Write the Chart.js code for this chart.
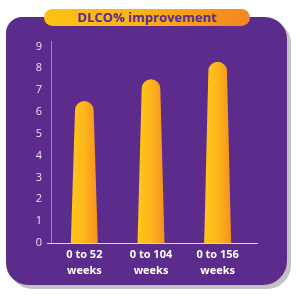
<!DOCTYPE html>
<html>
<head>
<meta charset="utf-8">
<script src="https://cdn.jsdelivr.net/npm/chart.js@4"></script>
<style>
  html, body { margin:0; padding:0; width:300px; height:300px; background:#ffffff; overflow:hidden; }
  #shadow { position:absolute; left:10px; top:21px; width:281px; height:268px; background:#c2c2c2; border-radius:16px 22px 24px 22px; }
  #panel { position:absolute; left:6px; top:17px; width:281px; height:268px; background:#5b2c8c; border-radius:16px 22px 24px 22px; }
  #pill { position:absolute; left:44px; top:9px; width:206px; height:17px; border-radius:9px;
          background:linear-gradient(to right, #fdc114 0%, #fbb317 45%, #f58420 100%);
          color:#5b2c8c; font:bold 13px "Open Sans", sans-serif; text-align:center; line-height:17px; }
  #wrap { position:absolute; left:0; top:0; width:300px; height:300px; }
</style>
</head>
<body>
<div id="shadow"></div>
<div id="panel"></div>
<div id="pill">DLCO% improvement</div>
<div id="wrap"><canvas id="c" width="300" height="300"></canvas></div>
<script>
const categories = [["0 to 52", "weeks"], ["0 to 104", "weeks"], ["0 to 156", "weeks"]];
const improvement = [6.5, 7.5, 8.3];
const yTicks = [0, 1, 2, 3, 4, 5, 6, 7, 8, 9];

const taperedBars = {
  id: 'taperedBars',
  afterDatasetsDraw(chart) {
    const ctx = chart.ctx;
    const meta = chart.getDatasetMeta(0);
    meta.data.forEach(bar => {
      const x = bar.x, y = bar.y, base = bar.base;
      const wb = bar.width;
      const wt = wb * 0.69;
      const r = wt / 2;
      const g = ctx.createLinearGradient(x - wb / 2, 0, x + wb / 2, 0);
      g.addColorStop(0, '#ffc61a');
      g.addColorStop(0.5, '#fdb71a');
      g.addColorStop(1, '#f58f1f');
      ctx.save();
      ctx.beginPath();
      ctx.moveTo(x - wb / 2, base);
      ctx.lineTo(x - wt / 2, y + r);
      ctx.arc(x, y + r, r, Math.PI, 0);
      ctx.lineTo(x + wb / 2, base);
      ctx.closePath();
      ctx.fillStyle = g;
      ctx.fill();
      ctx.restore();
    });
  },
  afterDraw(chart) {
    const ctx = chart.ctx;
    const a = chart.chartArea;
    ctx.save();
    ctx.strokeStyle = '#d9d0ea';
    ctx.lineWidth = 1;
    ctx.beginPath();
    ctx.moveTo(a.left - 4, a.bottom + 0.5);
    ctx.lineTo(a.right + 7, a.bottom + 0.5);
    ctx.stroke();
    ctx.restore();
  }
};

new Chart(document.getElementById('c'), {
  type: 'bar',
  data: {
    labels: categories,
    datasets: [{
      data: improvement,
      backgroundColor: 'rgba(0,0,0,0)',
      borderWidth: 0,
      categoryPercentage: 1,
      barPercentage: 0.405
    }]
  },
  options: {
    responsive: false,
    animation: false,
    events: [],
    layout: { padding: { left: 0, right: 49, top: 41, bottom: 0 } },
    plugins: { legend: { display: false }, tooltip: { enabled: false }, title: { display: false } },
    scales: {
      x: {
        grid: { display: false, drawTicks: false },
        border: { display: false },
        ticks: {
          color: '#ffffff',
          font: { family: 'Open Sans', weight: 'bold', size: 11, lineHeight: 1.42 },
          padding: 4,
          maxRotation: 0
        },
        afterFit(s) { s.height = 57; }
      },
      y: {
        min: 0,
        max: 9.25,
        grid: { display: false, drawTicks: false },
        border: { display: true, color: '#9a86c2', width: 1 },
        ticks: {
          color: '#e8e2f2',
          font: { family: 'Open Sans', size: 11 },
          padding: 9,
          stepSize: 1
        },
        afterBuildTicks(s) { s.ticks = yTicks.map(v => ({ value: v })); },
        afterFit(s) { s.width = 51; }
      }
    }
  },
  plugins: [taperedBars]
});
</script>
</body>
</html>
